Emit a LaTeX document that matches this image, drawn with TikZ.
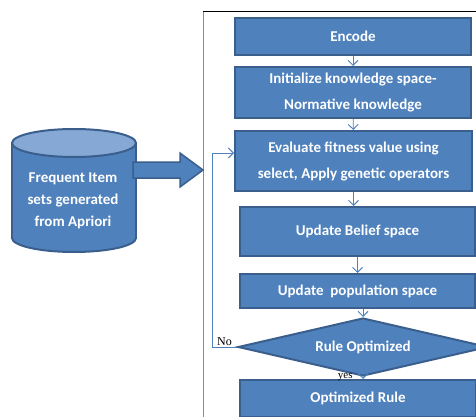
\documentclass[tikz,border=0pt]{standalone}
\usepackage{fontspec}
\setmainfont{Liberation Serif}
\newfontfamily\boxfont{Carlito}
\usetikzlibrary{shapes.geometric,arrows.meta,calc}
\definecolor{boxfill}{HTML}{4F81BD}
\definecolor{boxline}{HTML}{3A5F8C}
\definecolor{boxtop}{HTML}{85A8D4}
\definecolor{framegray}{HTML}{8C8C8C}
\tikzset{
  stage/.style={draw=boxline, fill=boxfill, line width=2pt, text=white,
    font=\boxfont\bfseries\fontsize{15}{26}\selectfont, align=center, inner sep=0pt},
  flow/.style={draw=boxfill, line width=0.9pt, -{Straight Barb[length=5pt,width=10pt]}},
  tag/.style={font=\fontsize{12}{12}\selectfont, inner sep=1pt}
}
\begin{document}
\begin{tikzpicture}[x=1pt, y=-1pt]
  \useasboundingbox (0,0) rectangle (476,417);
  % frame round the process
  \draw[framegray, line width=1pt] (203,11) -- (203,417);
  \draw[black, line width=0.8pt] (203,11) -- (476,11);
  % database cylinder
  \filldraw[fill=boxfill, draw=boxline, line width=2pt] (74,238) ellipse [x radius=62, y radius=14];
  \fill[boxfill] (12,143) rectangle (136,238);
  \draw[boxline, line width=2pt] (12,143) -- (12,238) (136,143) -- (136,238);
  \filldraw[fill=boxtop, draw=boxline, line width=2pt] (74,143) ellipse [x radius=62, y radius=14];
  \node (db) at (73,201) [text=white, align=center, inner sep=0pt,
    font=\boxfont\bfseries\fontsize{15}{22}\selectfont] {Frequent Item\\sets generated\\from Apriori};
  % block arrow into the frame
  \coordinate (tail) at (133,170);
  \coordinate (tip) at (203,170);
  \filldraw[fill=boxfill, draw=boxline, line width=1.5pt]
    ($(tail)+(0,-8)$) -- ($(tip)+(-23,-8)$) -- ($(tip)+(-23,-17)$) -- (tip)
    -- ($(tip)+(-23,17)$) -- ($(tip)+(-23,8)$) -- ($(tail)+(0,8)$) -- cycle;
  % process steps
  \node[stage, minimum width=236, minimum height=37] (encode) at (353,36.5) {Encode};
  \node[stage, minimum width=236, minimum height=51] (init) at (353,92.5) {Initialize knowledge space-\\Normative knowledge};
  \node[stage, minimum width=237, minimum height=60] (eval) at (353.5,161) {Evaluate fitness value using\\select, Apply genetic operators};
  \node[stage, minimum width=235, minimum height=49] (belief) at (357.5,231.5) {Update Belief space};
  \node[stage, minimum width=235, minimum height=34] (pop) at (357.5,291) {Update\ \ population space};
  \node[stage, diamond, aspect=4.3, minimum width=250, minimum height=58] (check) at (363,347) {Rule Optimized};
  \node[stage, minimum width=236, minimum height=37] (rule) at (358,398.5) {Optimized Rule};
  % connectors
  \draw[flow] (encode) -- (init);
  \draw[flow] (init) -- (eval);
  \draw[flow] (eval.south) -- (eval.south |- belief.north);
  \draw[flow] (belief.south) -- (belief.south |- pop.north);
  \draw[flow] (check.north |- pop.south) -- (check.north);
  \draw[flow] (check.south) -- node[tag, left, font=\fontsize{11}{11}\selectfont, xshift=-9pt, yshift=1pt] {yes} (check.south |- rule.north);
  \draw[flow] (check.west) -- node[tag, above] {No} ++(-25,0) |- ([yshift=8pt]eval.west);
\end{tikzpicture}
\end{document}
